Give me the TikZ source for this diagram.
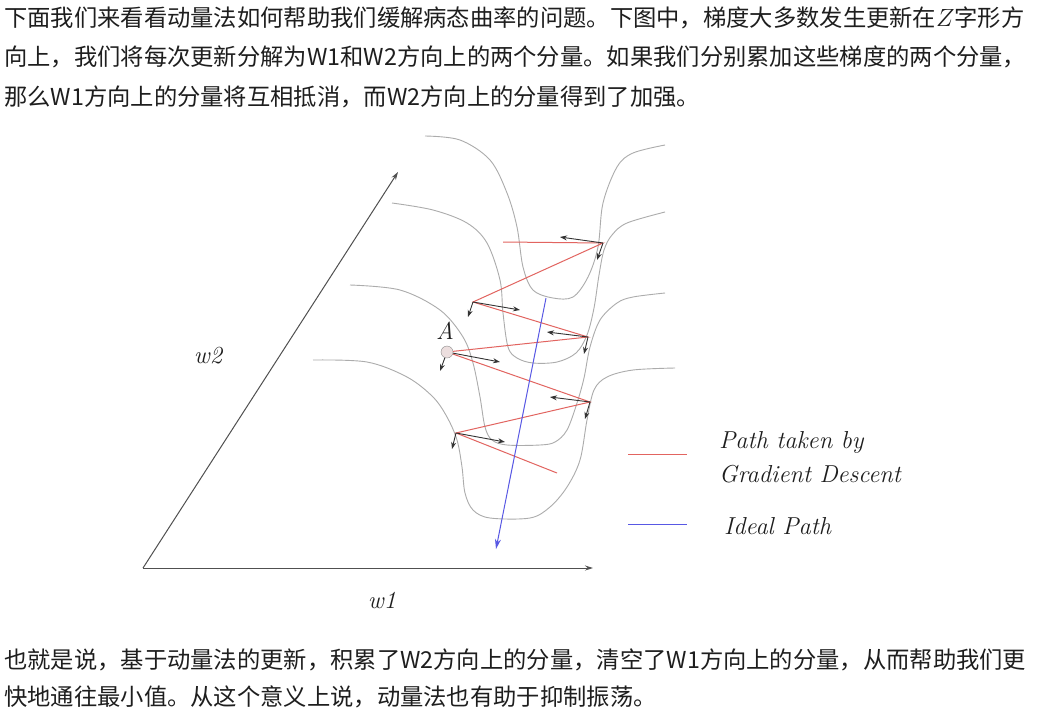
\documentclass[tikz,border=0pt]{standalone}
\usepackage{fontspec}
\newfontfamily\cjk{Noto Sans CJK SC}
\usetikzlibrary{arrows.meta}
\definecolor{gdred}{RGB}{226,100,96}
\definecolor{idealblue}{RGB}{88,88,228}
\definecolor{contourgray}{RGB}{172,172,172}
\definecolor{axisgray}{RGB}{80,80,80}
\definecolor{txtgray}{RGB}{30,30,30}
\definecolor{pointfill}{RGB}{236,222,222}

\begin{document}
\begin{tikzpicture}
                [x=1pt,y=-1pt,
                every node/.style={inner sep=0pt,text=txtgray},
                para/.style={anchor=west,font=\cjk\fontsize{23.3}{28}\selectfont},
                lbl/.style={font=\fontsize{24.5}{29}\selectfont\itshape},
                contour/.style={contourgray,line width=0.9pt},
                axis/.style={axisgray,line width=1pt,-{Stealth[length=8pt,width=5pt]}},
                gdpath/.style={gdred,line width=1pt},
                ideal/.style={idealblue,line width=1pt},
                grad/.style={black!80,line width=0.9pt,-{Stealth[length=7pt,width=5pt]}},
                ptA/.style={circle,draw=black!45,fill=pointfill,minimum size=12pt}]
                \fill[white] (0,0) rectangle (1043,726);
                \useasboundingbox (0,0) rectangle (1043,726);
                \node[para] (top1) at (4,18) {下面我们来看看动量法如何帮助我们缓解病态曲率的问题。下图中，梯度大多数发生更新在$Z$字形方};
                \node[para] (top2) at (4,57) {向上，我们将每次更新分解为W1和W2方向上的两个分量。如果我们分别累加这些梯度的两个分量，};
                \node[para] (top3) at (4,97) {那么W1方向上的分量将互相抵消，而W2方向上的分量得到了加强。};
                \node[para] (bot1) at (4,660) {也就是说，基于动量法的更新，积累了W2方向上的分量，清空了W1方向上的分量，从而帮助我们更};
                \node[para] (bot2) at (4,697) {快地通往最小值。从这个意义上说，动量法也有助于抑制振荡。};
                \draw[contour] plot[smooth,tension=0.55] coordinates {(425,136) (460,140) (490,160) (507,193) (517,227) (523,267) (533,290) (553,298) (573,297) (588,277) (598,247) (603,203) (617,167) (633,153) (665,145)};
                \draw[contour] plot[smooth,tension=0.55] coordinates {(392,203) (433,210) (467,223) (487,243) (500,280) (503,313) (508,347) (517,358) (533,363) (557,362) (576,353) (587,335) (594,308) (599,275) (604,250) (612,235) (627,223) (665,212)};
                \draw[contour] plot[smooth,tension=0.55] coordinates {(350,285) (400,290) (440,310) (463,337) (473,363) (480,397) (485,427) (492,440) (507,445) (540,445) (555,442) (567,430) (577,403) (584,378) (590,347) (600,320) (617,303) (633,297) (665,293)};
                \draw[contour] plot[smooth,tension=0.55] coordinates {(313,360) (367,362) (407,377) (433,397) (447,417) (457,440) (462,467) (465,493) (473,510) (490,518) (530,518) (550,507) (567,487) (580,460) (587,420) (594,390) (607,377) (633,370) (675,368)};
                \coordinate (O) at (143,568);
                \coordinate (w1end) at (593,568);
                \coordinate (w2end) at (398,172);
                \draw[axis] (O) -- (w1end);
                \draw[axis] (O) -- (w2end);
                \node[lbl] (w1lbl) at (382,600) {w1};
                \node[lbl] (w2lbl) at (208,356) {w2};
                \coordinate (p1) at (503,242);
                \coordinate (p2) at (603,243);
                \coordinate (p3) at (473,302);
                \coordinate (p4) at (588,337);
                \node[ptA] (A) at (447,352) {};
                \coordinate (p5) at (590,402);
                \coordinate (p6) at (456,433);
                \coordinate (p7) at (557,473);
                \node[lbl] (Alabel) at (445,331) {A};
                \draw[gdpath] (p1) -- (p2) -- (p3) -- (p4) -- (A) -- (p5) -- (p6) -- (p7);
                \coordinate (idealstart) at (546,298);
                \coordinate (idealend) at (496,549);
                \draw[ideal,-{Stealth[length=10pt,width=6pt]}] (idealstart) -- (idealend);
                \foreach \pt/\hx/\hy/\vx/\vy in {p2/560/237/597/260,p3/520/310/468/317,p4/547/332/584/354,A/500/362/440/371,p5/550/397/585/419,p6/505/442/452/449}
                {
                \coordinate (\pt-h) at (\hx,\hy);
                \coordinate (\pt-v) at (\vx,\vy);
                \draw[grad] (\pt) -- (\pt-h);
                \draw[grad] (\pt) -- (\pt-v);
                }
                \coordinate (legr1) at (628,454);
                \coordinate (legr2) at (687,454);
                \coordinate (legb1) at (628,524);
                \coordinate (legb2) at (687,524);
                \draw[gdpath] (legr1) -- (legr2);
                \draw[ideal] (legb1) -- (legb2);
                \node[lbl,anchor=west] (leggd1) at (719,442) {Path taken by};
                \node[lbl,anchor=west] (leggd2) at (719,474) {Gradient Descent};
                \node[lbl,anchor=west] (legideal) at (724,526) {Ideal Path};
            \end{tikzpicture}
\end{document}
